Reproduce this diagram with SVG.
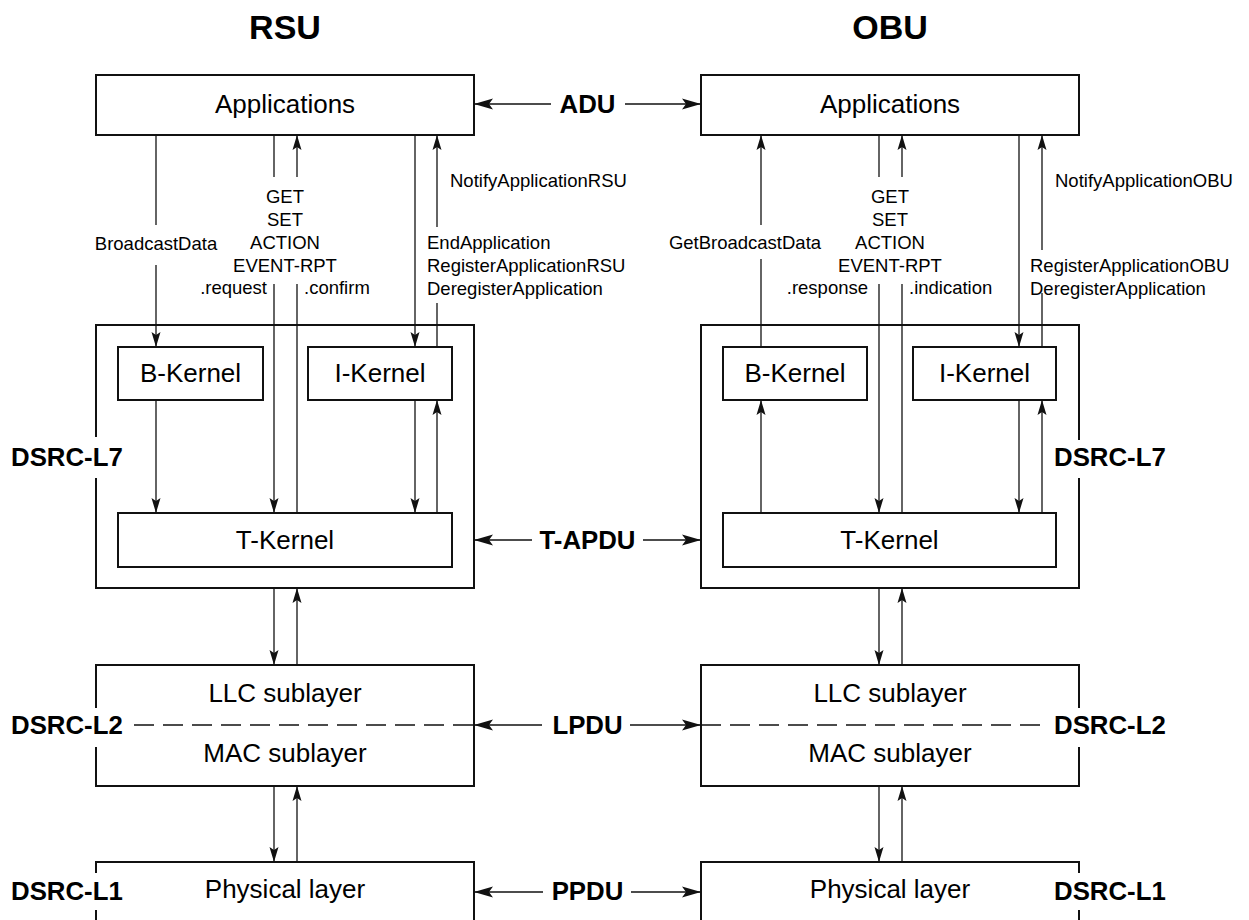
<svg xmlns="http://www.w3.org/2000/svg" width="1249" height="920" viewBox="0 0 1249 920">
  <style>
    .box { fill: #fff; stroke: #111; stroke-width: 2; }
    .frame { fill: none; stroke: #111; stroke-width: 2; }
    .ln { fill: none; stroke: #111; stroke-width: 1.3; }
    .dash { fill: none; stroke: #111; stroke-width: 1.6; stroke-dasharray: 20 9; }
    .big { font-family: "Liberation Sans", Arial, sans-serif; font-size: 26px; fill: #000; text-anchor: middle; }
    .sm { font-family: "Liberation Sans", Arial, sans-serif; font-size: 18.5px; fill: #000; }
    .mid { text-anchor: middle; }
    .end { text-anchor: end; }
    .bold { font-family: "Liberation Sans", Arial, sans-serif; font-size: 25.8px; font-weight: bold; fill: #000; }
    .title { font-family: "Liberation Sans", Arial, sans-serif; font-size: 34px; font-weight: bold; fill: #000; text-anchor: middle; }
  </style>
  <defs>
    <!-- small arrowhead for the vertical service primitives -->
    <marker id="arr" viewBox="-16 -5 17 10" refX="0" refY="0" markerWidth="17" markerHeight="10" markerUnits="userSpaceOnUse" orient="auto">
      <path d="M0,0 L-15,-4.5 L-12,0 L-15,4.5 Z" fill="#111"/>
    </marker>
    <!-- larger arrowhead for the peer-to-peer exchanges -->
    <marker id="arrH" viewBox="-20 -6 21 12" refX="0" refY="0" markerWidth="21" markerHeight="12" markerUnits="userSpaceOnUse" orient="auto">
      <path d="M0,0 L-19,-5.5 L-15,0 L-19,5.5 Z" fill="#111"/>
    </marker>
  </defs>

  <rect width="1249" height="920" fill="#fff"/>

  <!-- titles -->
  <g id="titles">
    <text class="title" x="285" y="39">RSU</text>
    <text class="title" x="890" y="39">OBU</text>
  </g>

  <!-- RSU stack -->
  <g id="rsu-applications">
    <rect class="box" x="96" y="75" width="378" height="60"/>
    <text class="big" x="285" y="113">Applications</text>
  </g>
  <g id="rsu-l7">
    <path class="frame" d="M96,437 V325 H474 V588 H96 V478"/>
    <text class="bold" x="11" y="466">DSRC-L7</text>
  </g>
  <g id="rsu-bkernel">
    <rect class="box" x="118" y="347" width="145" height="53"/>
    <text class="big" x="190.5" y="382">B-Kernel</text>
  </g>
  <g id="rsu-ikernel">
    <rect class="box" x="308" y="347" width="144" height="53"/>
    <text class="big" x="380" y="382">I-Kernel</text>
  </g>
  <g id="rsu-tkernel">
    <rect class="box" x="118" y="513" width="334" height="54"/>
    <text class="big" x="285" y="549">T-Kernel</text>
  </g>
  <g id="rsu-l2">
    <path class="frame" d="M96,708 V665 H474 V786 H96 V747"/>
    <path class="dash" d="M134,725 H474"/>
    <text class="big" x="285" y="702">LLC sublayer</text>
    <text class="big" x="285" y="762">MAC sublayer</text>
    <text class="bold" x="11" y="734">DSRC-L2</text>
  </g>
  <g id="rsu-l1">
    <path class="frame" d="M96,873 V862 H474 V930 M96,910 V930"/>
    <text class="big" x="285" y="898">Physical layer</text>
    <text class="bold" x="11" y="900">DSRC-L1</text>
  </g>

  <!-- OBU stack -->
  <g id="obu-applications">
    <rect class="box" x="701" y="75" width="378" height="60"/>
    <text class="big" x="890" y="113">Applications</text>
  </g>
  <g id="obu-l7">
    <path class="frame" d="M1079,440 V325 H701 V588 H1079 V478"/>
    <text class="bold" x="1054" y="466">DSRC-L7</text>
  </g>
  <g id="obu-bkernel">
    <rect class="box" x="723" y="347" width="144" height="53"/>
    <text class="big" x="795" y="382">B-Kernel</text>
  </g>
  <g id="obu-ikernel">
    <rect class="box" x="913" y="347" width="143" height="53"/>
    <text class="big" x="984.5" y="382">I-Kernel</text>
  </g>
  <g id="obu-tkernel">
    <rect class="box" x="723" y="513" width="333" height="54"/>
    <text class="big" x="889.5" y="549">T-Kernel</text>
  </g>
  <g id="obu-l2">
    <path class="frame" d="M1079,708 V665 H701 V786 H1079 V747"/>
    <path class="dash" d="M1040,725 H701"/>
    <text class="big" x="890" y="702">LLC sublayer</text>
    <text class="big" x="890" y="762">MAC sublayer</text>
    <text class="bold" x="1054" y="734">DSRC-L2</text>
  </g>
  <g id="obu-l1">
    <path class="frame" d="M1079,873 V862 H701 V930 M1079,910 V930"/>
    <text class="big" x="890" y="898">Physical layer</text>
    <text class="bold" x="1054" y="900">DSRC-L1</text>
  </g>

  <!-- peer PDUs -->
  <g id="peer-labels">
    <text class="bold" x="587.5" y="113" text-anchor="middle">ADU</text>
    <text class="bold" x="587.5" y="549" text-anchor="middle">T-APDU</text>
    <text class="bold" x="587.5" y="734" text-anchor="middle">LPDU</text>
    <text class="bold" x="587.5" y="900" text-anchor="middle">PPDU</text>
  </g>

  <!-- primitive labels -->
  <g id="rsu-primitives">
    <text class="sm mid" x="156" y="250">BroadcastData</text>
    <text class="sm mid" x="285" y="203">GET</text>
    <text class="sm mid" x="285" y="226">SET</text>
    <text class="sm mid" x="285" y="249">ACTION</text>
    <text class="sm mid" x="285" y="272">EVENT-RPT</text>
    <text class="sm end" x="267" y="294">.request</text>
    <text class="sm" x="304" y="294">.confirm</text>
    <text class="sm" x="450" y="187">NotifyApplicationRSU</text>
    <text class="sm" x="427" y="249">EndApplication</text>
    <text class="sm" x="427" y="272">RegisterApplicationRSU</text>
    <text class="sm" x="427" y="295">DeregisterApplication</text>
  </g>
  <g id="obu-primitives">
    <text class="sm mid" x="745" y="249">GetBroadcastData</text>
    <text class="sm mid" x="890" y="203">GET</text>
    <text class="sm mid" x="890" y="226">SET</text>
    <text class="sm mid" x="890" y="249">ACTION</text>
    <text class="sm mid" x="890" y="272">EVENT-RPT</text>
    <text class="sm end" x="868" y="294">.response</text>
    <text class="sm" x="909" y="294">.indication</text>
    <text class="sm" x="1055" y="187">NotifyApplicationOBU</text>
    <text class="sm" x="1030" y="272">RegisterApplicationOBU</text>
    <text class="sm" x="1030" y="295">DeregisterApplication</text>
  </g>

  <!-- connectors -->
  <g id="connectors">
    <!-- peer exchanges -->
    <path class="ln" d="M551,104 H474" marker-end="url(#arrH)"/>
    <path class="ln" d="M625,104 H701" marker-end="url(#arrH)"/>
    <path class="ln" d="M532,540 H474" marker-end="url(#arrH)"/>
    <path class="ln" d="M643,540 H701" marker-end="url(#arrH)"/>
    <path class="ln" d="M542,725 H474" marker-end="url(#arrH)"/>
    <path class="ln" d="M630,725 H701" marker-end="url(#arrH)"/>
    <path class="ln" d="M543,892 H474" marker-end="url(#arrH)"/>
    <path class="ln" d="M631,892 H701" marker-end="url(#arrH)"/>

    <!-- RSU: applications to kernels -->
    <path class="ln" d="M156,135 V225"/>
    <path class="ln" d="M156,265 V347" marker-end="url(#arr)"/>
    <path class="ln" d="M274,135 V177"/>
    <path class="ln" d="M274,284 V513" marker-end="url(#arr)"/>
    <path class="ln" d="M297,177 V135" marker-end="url(#arr)"/>
    <path class="ln" d="M297,513 V284"/>
    <path class="ln" d="M415,135 V347" marker-end="url(#arr)"/>
    <path class="ln" d="M437,227 V135" marker-end="url(#arr)"/>
    <path class="ln" d="M437,347 V303"/>
    <!-- RSU: inside L7 -->
    <path class="ln" d="M156,400 V513" marker-end="url(#arr)"/>
    <path class="ln" d="M415,400 V513" marker-end="url(#arr)"/>
    <path class="ln" d="M437,513 V400" marker-end="url(#arr)"/>
    <!-- RSU: between layers -->
    <path class="ln" d="M274,588 V665" marker-end="url(#arr)"/>
    <path class="ln" d="M297,665 V588" marker-end="url(#arr)"/>
    <path class="ln" d="M274,786 V862" marker-end="url(#arr)"/>
    <path class="ln" d="M297,862 V786" marker-end="url(#arr)"/>

    <!-- OBU: kernels to applications -->
    <path class="ln" d="M761,225 V135" marker-end="url(#arr)"/>
    <path class="ln" d="M761,347 V259"/>
    <path class="ln" d="M879,135 V177"/>
    <path class="ln" d="M879,284 V513" marker-end="url(#arr)"/>
    <path class="ln" d="M902,177 V135" marker-end="url(#arr)"/>
    <path class="ln" d="M902,513 V284"/>
    <path class="ln" d="M1019,135 V347" marker-end="url(#arr)"/>
    <path class="ln" d="M1042,250 V135" marker-end="url(#arr)"/>
    <path class="ln" d="M1042,347 V293"/>
    <!-- OBU: inside L7 -->
    <path class="ln" d="M761,513 V400" marker-end="url(#arr)"/>
    <path class="ln" d="M1019,400 V513" marker-end="url(#arr)"/>
    <path class="ln" d="M1042,513 V400" marker-end="url(#arr)"/>
    <!-- OBU: between layers -->
    <path class="ln" d="M879,588 V665" marker-end="url(#arr)"/>
    <path class="ln" d="M902,665 V588" marker-end="url(#arr)"/>
    <path class="ln" d="M879,786 V862" marker-end="url(#arr)"/>
    <path class="ln" d="M902,862 V786" marker-end="url(#arr)"/>
  </g>
</svg>
